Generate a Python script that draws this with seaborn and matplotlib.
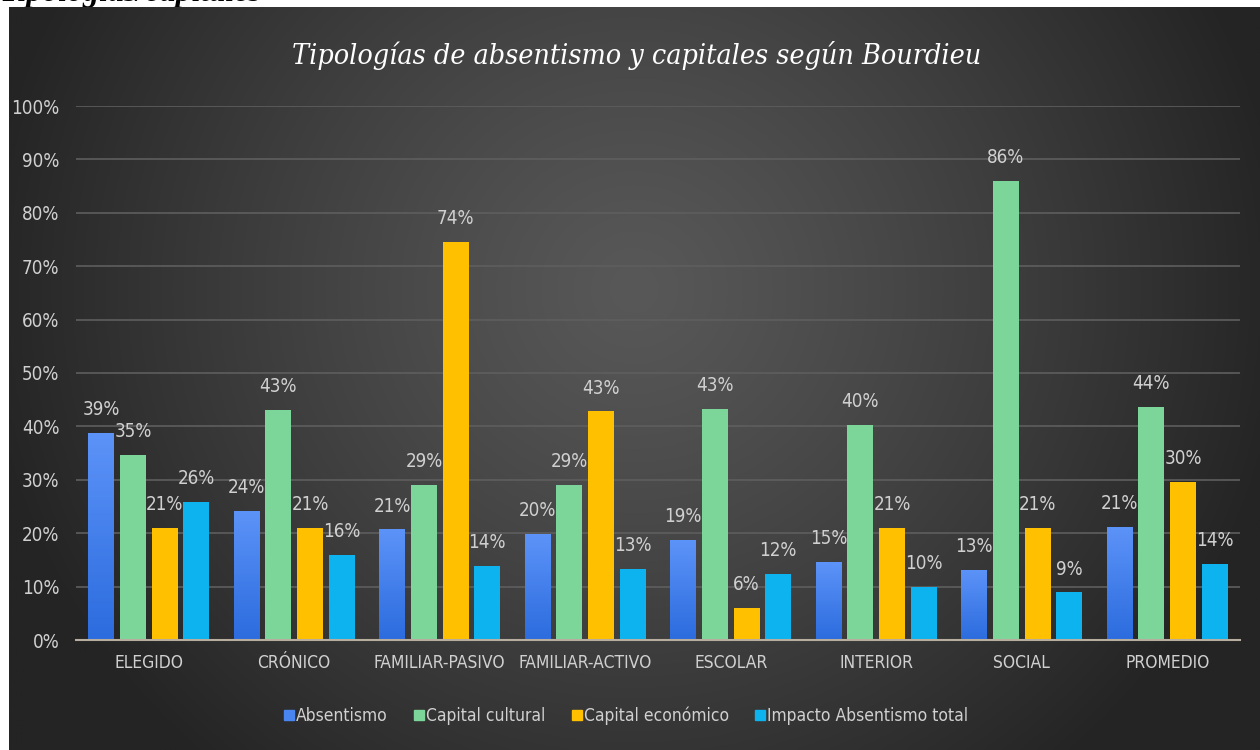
import numpy as np
import pandas as pd
import matplotlib
matplotlib.use("Agg")
import matplotlib.pyplot as plt
import seaborn as sns

sns.set_style("dark")
plt.rcParams['font.family'] = ['DejaVu Sans']
plt.rcParams['font.stretch'] = 'condensed'

# datos
categorias = ["ELEGIDO", "CRÓNICO", "FAMILIAR-PASIVO", "FAMILIAR-ACTIVO",
              "ESCOLAR", "INTERIOR", "SOCIAL", "PROMEDIO"]
series = ["Absentismo", "Capital cultural", "Capital económico", "Impacto Absentismo total"]
absentismo = [38.8, 24.2, 20.7, 19.8, 18.7, 14.6, 13.2, 21.2]
capital_cultural = [34.6, 43.0, 29.0, 29.0, 43.3, 40.2, 86.0, 43.6]
capital_economico = [21.0, 21.0, 74.5, 42.8, 6.0, 21.0, 21.0, 29.6]
impacto_total = [25.8, 16.0, 13.8, 13.3, 12.3, 9.9, 8.9, 14.3]
colores = ["#4a86f2", "#7dd699", "#ffc000", "#0db3ee"]

df = pd.DataFrame({
    "categoria": categorias * 4,
    "serie": sum([[s] * len(categorias) for s in series], []),
    "valor": absentismo + capital_cultural + capital_economico + impacto_total,
})
df["valor"] = df["valor"] / 100

fig = plt.figure(figsize=(12.6, 7.5), dpi=100, facecolor="white")

# texto cortado arriba (fuera del grafico)
fig.text(0.0, 1 - 1 / 750, "Tipologías/capitales", family="Liberation Serif",
         fontsize=23, fontweight="bold", style="italic", color="black",
         va="baseline", ha="left", zorder=1)

# fondo degradado radial
bg = fig.add_axes([9 / 1260, 0, 1 - 9 / 1260, 743 / 750], zorder=5)
yy, xx = np.mgrid[0:1:300j, 0:1:500j]
r = np.sqrt(((xx - 0.5) / 0.62) ** 2 + ((yy - 0.62) / 1.0) ** 2)
r = np.clip(r / 0.85, 0, 1) ** 1.2
c0, c1 = 0x58 / 255, 0x24 / 255
img = c0 + (c1 - c0) * r
bg.imshow(np.dstack([img, img, img]), aspect="auto", extent=[0, 1, 0, 1], origin="lower")
bg.set_axis_off()

ax = fig.add_axes([76 / 1260, 110 / 750, 1164 / 1260, 534 / 750], zorder=6)
ax.patch.set_alpha(0)
sns.barplot(data=df, x="categoria", y="valor", hue="serie", palette=colores,
            width=0.87, gap=0.18, ax=ax, legend=True, saturation=1, linewidth=0)

# degradado en las barras azules
for bar in ax.containers[0]:
    x0, y0 = bar.get_x(), bar.get_y()
    w, h = bar.get_width(), bar.get_height()
    grad = np.linspace(0, 1, 64).reshape(-1, 1)
    top = np.array([0x5c, 0x93, 0xf8]) / 255
    bot = np.array([0x2c, 0x6c, 0xde]) / 255
    cols = bot + (top - bot) * grad[:, :, None]
    im = ax.imshow(cols, extent=[x0, x0 + w, y0, y0 + h], origin="lower",
                   aspect="auto", zorder=bar.get_zorder() + 0.1)
    im.set_clip_path(bar)

for cont in ax.containers:
    labs = [f"{round(b.get_height() * 100)}%" for b in cont]
    ax.bar_label(cont, labels=labs, padding=10, color="#d0d0d0", fontsize=13.5)

ax.set_xlim(-0.5, 7.5)
ax.set_ylim(0, 1.0)
ax.set_yticks(np.arange(0, 1.01, 0.1))
ax.set_yticklabels([f"{int(v * 100)}%" for v in np.arange(0, 1.01, 0.1)])
ax.grid(axis="y", color="#5e5e5e", linewidth=1.2)
ax.set_axisbelow(True)
ax.tick_params(axis="y", colors="#d0d0d0", labelsize=13.5, length=0, pad=12)
ax.tick_params(axis="x", colors="#d0d0d0", labelsize=12.5, length=0, pad=10)
ax.set_xlabel("")
ax.set_ylabel("")
for s in ["top", "right", "left"]:
    ax.spines[s].set_visible(False)
ax.spines["bottom"].set_color("#b8aea0")
ax.spines["bottom"].set_linewidth(1.5)

ax.legend_.remove()
handles = [plt.Line2D([], [], marker="s", linestyle="", markersize=7, color=c) for c in colores]
fig.legend(handles, series, loc="center", bbox_to_anchor=(0.497, 34 / 750), ncol=4,
           frameon=False, fontsize=12.5, labelcolor="#d0d0d0", handlelength=0.6,
           handletextpad=0.1, columnspacing=1.5)

fig.text(0.505, 1 - 55 / 750, "Tipologías de absentismo y capitales según Bourdieu",
         family="DejaVu Serif", stretch="condensed", style="italic", fontsize=20.5,
         color="white", ha="center", va="center", zorder=7)

fig.savefig("out.png", dpi=100, facecolor="white")
